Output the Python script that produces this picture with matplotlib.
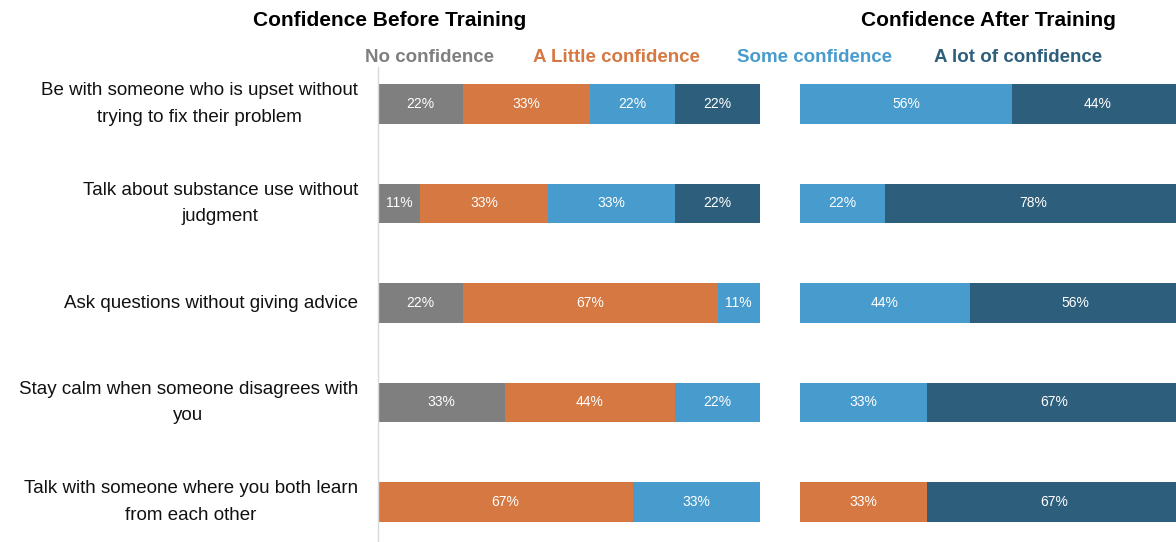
import matplotlib
matplotlib.use("Agg")
import matplotlib.pyplot as plt
import matplotlib.transforms as mtransforms
import numpy as np

plt.rcParams['font.family'] = ['Liberation Sans', 'DejaVu Sans']

questions = [
    "Be with someone who is upset without\ntrying to fix their problem",
    "Talk about substance use without\njudgment",
    "Ask questions without giving advice",
    "Stay calm when someone disagrees with\nyou",
    "Talk with someone where you both learn\nfrom each other",
]
levels = ["No confidence", "A Little confidence", "Some confidence", "A lot of confidence"]
colors = ["#7f7f7f", "#d67842", "#489ccd", "#2d5f7d"]

# percent of respondents per level, one list per level (rows = questions)
before_none = [22.2, 11.1, 22.2, 33.3, 0]
before_little = [33.3, 33.3, 66.7, 44.4, 66.7]
before_some = [22.2, 33.3, 11.1, 22.2, 33.3]
before_lot = [22.2, 22.2, 0, 0, 0]

after_none = [0, 0, 0, 0, 0]
after_little = [0, 0, 0, 0, 33.3]
after_some = [55.6, 22.2, 44.4, 33.3, 0]
after_lot = [44.4, 77.8, 55.6, 66.7, 66.7]

W, H = 1176, 542
fig = plt.figure(figsize=(W / 100, H / 100), dpi=100)

ax_b = fig.add_axes([378 / W, 0, 382 / W, (H - 67) / H])
ax_a = fig.add_axes([800 / W, 0, 376 / W, (H - 67) / H])


def stacked(ax, series, xmax):
    y = np.arange(len(questions))
    left = np.zeros(len(questions))
    for vals, col in zip(series, colors):
        vals = np.array(vals, dtype=float)
        ax.barh(y, vals, left=left, height=0.4, color=col, edgecolor='none')
        for yi, (l, v) in enumerate(zip(left, vals)):
            if v > 0:
                ax.text(l + v / 2, yi, f"{v:.0f}%", ha='center', va='center',
                        color='white', fontsize=10)
        left += vals
    ax.set_xlim(0, xmax)
    ax.set_ylim(4 + 40 / 99.5, -37 / 99.5)
    ax.set_xticks([])
    ax.set_yticks([])
    for s in ax.spines.values():
        s.set_visible(False)


stacked(ax_b, [before_none, before_little, before_some, before_lot], 100)
stacked(ax_a, [after_none, after_little, after_some, after_lot], 100 * 376 / 382)
ax_b.spines['left'].set_visible(True)
ax_b.spines['left'].set_color('#d9d9d9')
ax_b.spines['left'].set_linewidth(1)

trans = mtransforms.blended_transform_factory(fig.transFigure, ax_b.transData)
for i, q in enumerate(questions):
    fig.text(358 / W, i, q, transform=trans, ha='right', va='center',
             multialignment='center', fontsize=13.5, color='#111111',
             linespacing=1.75)

fig.text(390 / W, 1 - 20 / H, "Confidence Before Training", ha='center', va='center',
         fontsize=15, fontweight='bold', color='black')
fig.text(988 / W, 1 - 20 / H, "Confidence After Training", ha='center', va='center',
         fontsize=15, fontweight='bold', color='black')

leg_x = [365, 533, 737, 934]
for x, lab, col in zip(leg_x, levels, colors):
    fig.text(x / W, 1 - 57 / H, lab, ha='left', va='center', fontsize=13.5,
             fontweight='bold', color=col)

fig.savefig("out.png", dpi=100)
